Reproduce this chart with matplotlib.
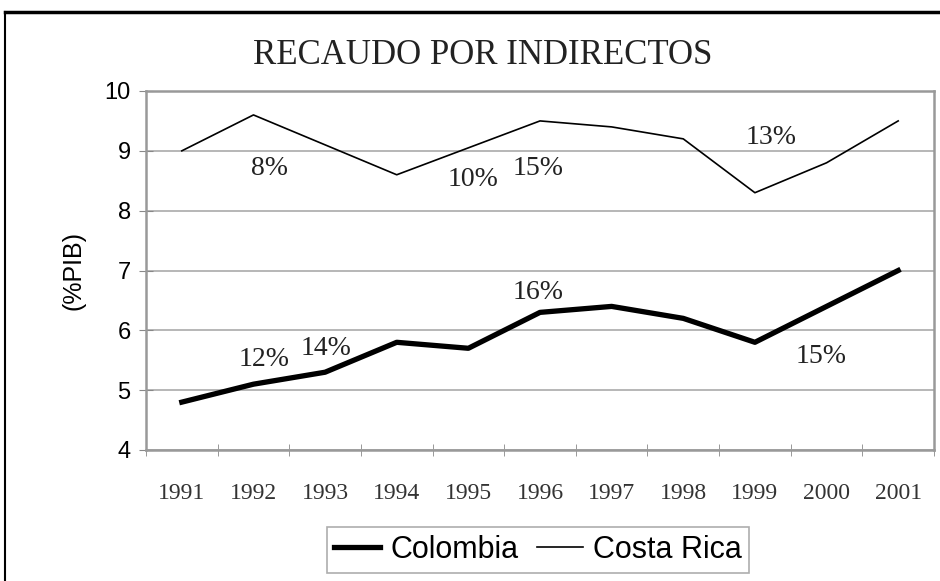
import matplotlib.pyplot as plt
import numpy as np

years = ["1991", "1992", "1993", "1994", "1995", "1996", "1997", "1998", "1999", "2000", "2001"]
colombia = [4.8, 5.1, 5.3, 5.8, 5.7, 6.3, 6.4, 6.2, 5.8, 6.4, 7.0]
costa_rica = [9.0, 9.6, 9.1, 8.6, 9.05, 9.5, 9.4, 9.2, 8.3, 8.8, 9.5]

notas = ["8%", "10%", "15%", "13%", "16%", "12%", "14%", "15%"]
notas_x = [1.23, 4.07, 4.97, 8.23, 4.97, 1.15, 2.02, 8.93]
notas_y = [8.70, 8.52, 8.70, 9.22, 6.64, 5.51, 5.69, 5.57]

serif = "Liberation Serif"
sans = "Liberation Sans"

fig = plt.figure(figsize=(9.4, 5.81), dpi=100)
ax = fig.add_axes([146/940, 1 - 450/581, (934-146)/940, (450-91)/581])

x = np.arange(len(years))
ax.plot(x, colombia, color="black", linewidth=3.8, label="Colombia")
ax.plot(x, costa_rica, color="black", linewidth=1.2, label="Costa Rica")

for t, tx, ty in zip(notas, notas_x, notas_y):
    ax.text(tx, ty, t, ha="center", va="center", fontsize=20, family=serif, color="#222222")

ax.set_xlim(-0.5, len(years) - 0.5)
ax.set_ylim(4, 10)
ax.set_yticks(range(4, 11))
ax.set_yticklabels([str(v) for v in range(4, 11)], family=sans, fontsize=17)
ax.set_xticks(x)
ax.set_xticklabels(years, family=serif, fontsize=17, color="#333333")
ax.set_xticks(np.arange(-0.5, len(years), 1.0), minor=True)
ax.tick_params(axis="x", which="major", length=0, pad=24)
ax.tick_params(axis="x", which="minor", length=9, color="#888888", direction="inout")
ax.tick_params(axis="y", length=10, color="#888888", direction="inout", pad=6)
ax.yaxis.grid(True, color="#aaaaaa", linewidth=1.2)
ax.set_axisbelow(True)
for s in ax.spines.values():
    s.set_color("#999999")
    s.set_linewidth(1.8)

ax.set_ylabel("(%PIB)", family=sans, fontsize=18, labelpad=14)

fig.text(483/940, 1 - 56/581, "RECAUDO POR INDIRECTOS", ha="center", va="center",
         family=serif, fontsize=25, color="#222222")

leg = ax.legend(loc="center", bbox_to_anchor=(538/940, 1 - 550/581), bbox_transform=fig.transFigure,
                ncol=2, frameon=True, fancybox=False, prop={"family": sans, "size": 22},
                handlelength=1.5, handletextpad=0.33, columnspacing=0.6, borderpad=0.25,
                borderaxespad=0)
leg.get_frame().set_edgecolor("#999999")
leg.get_frame().set_linewidth(1.2)

# marco exterior
fig.add_artist(plt.Line2D([5/940, 1], [1 - 12/581, 1 - 12/581], transform=fig.transFigure, color="black", linewidth=2.5))
fig.add_artist(plt.Line2D([5/940, 5/940], [0, 1 - 12/581], transform=fig.transFigure, color="black", linewidth=1.5))

plt.savefig("out.png", dpi=100)
